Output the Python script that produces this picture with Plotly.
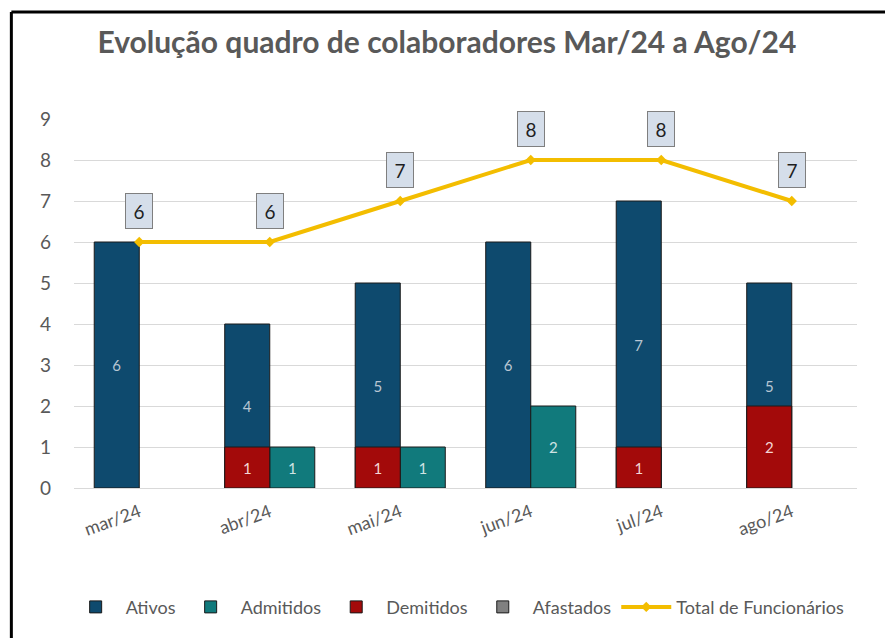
import plotly.graph_objects as go

categories = ["mar/24", "abr/24", "mai/24", "jun/24", "jul/24", "ago/24"]
ativos = [6, 4, 5, 6, 7, 5]
admitidos = [0, 1, 1, 2, 0, 0]
demitidos = [0, 1, 1, 0, 1, 2]
afastados = [0, 0, 0, 0, 0, 0]
total = [6, 6, 7, 8, 8, 7]
y_ticks = [0, 1, 2, 3, 4, 5, 6, 7, 8, 9]

FONT = "Lato"
GRAY = "#595959"

def lbl(vals):
    return [str(v) if v else "" for v in vals]

def nz(vals):
    return [v if v else None for v in vals]

fig = go.Figure()
fig.add_trace(go.Bar(name="Ativos", x=categories, y=nz(ativos), offsetgroup="a",
                     marker=dict(color="#0e4a6e", line=dict(color="#1a1a1a", width=1)),
                     text=lbl(ativos), textposition="inside", insidetextanchor="middle",
                     textangle=0, textfont=dict(color="#b8c6d3", size=15, family=FONT)))
fig.add_trace(go.Bar(name="Admitidos", x=categories, y=nz(admitidos), offsetgroup="b",
                     marker=dict(color="#117a7c", line=dict(color="#1a1a1a", width=1)),
                     text=lbl(admitidos), textposition="inside", insidetextanchor="middle",
                     textangle=0, textfont=dict(color="#cfe3e3", size=15, family=FONT)))
fig.add_trace(go.Bar(name="Demitidos", x=categories, y=nz(demitidos), offsetgroup="a",
                     marker=dict(color="#a30a0a", line=dict(color="#1a1a1a", width=1)),
                     text=lbl(demitidos), textposition="inside", insidetextanchor="middle",
                     textangle=0, textfont=dict(color="#f4d6d6", size=15, family=FONT)))
fig.add_trace(go.Bar(name="Afastados", x=categories, y=nz(afastados), offsetgroup="b",
                     marker=dict(color="#808080", line=dict(color="#1a1a1a", width=1)),
                     text=lbl(afastados), textposition="inside"))
fig.add_trace(go.Scatter(name="Total de Funcionários", x=categories, y=total,
                         mode="lines+markers",
                         line=dict(color="#f3bd00", width=4),
                         marker=dict(symbol="diamond", size=8, color="#f3bd00")))

for c, v in zip(categories, total):
    fig.add_annotation(x=c, y=v, text=str(v), showarrow=False, yshift=31,
                       font=dict(size=19, color="#1f1f1f", family=FONT),
                       bgcolor="#d5deea", bordercolor="#7f7f7f", borderwidth=1,
                       width=22, height=30, borderpad=2)

# outer frame lines (top and left)
fig.add_shape(type="line", xref="paper", yref="paper", x0=-0.08, x1=1.05,
              y0=1.29, y1=1.29, line=dict(color="black", width=3))
fig.add_shape(type="line", xref="paper", yref="paper", x0=-0.08, x1=-0.08,
              y0=1.29, y1=-0.42, line=dict(color="black", width=3))

fig.update_layout(
    width=885, height=638,
    margin=dict(l=74, r=28, t=119, b=147),
    paper_bgcolor="white", plot_bgcolor="white",
    barmode="group", bargap=0.31, bargroupgap=0,
    title=dict(text="Evolução quadro de colaboradores Mar/24 a Ago/24",
               x=0.505, xanchor="center", y=0.934, yanchor="middle",
               font=dict(family=FONT, size=30, color=GRAY, weight="bold")),
    font=dict(family=FONT, color=GRAY),
    legend=dict(orientation="h", x=0.49, xanchor="center", y=-0.323, yanchor="middle",
                font=dict(size=18, color=GRAY, family=FONT), traceorder="normal",
                itemwidth=50, tracegroupgap=0),
    xaxis=dict(tickangle=-20, tickfont=dict(size=18, color=GRAY, family=FONT),
               showline=True, linecolor="#d9d9d9", linewidth=1, ticks="",
               ticklabelstandoff=6),
    yaxis=dict(range=[0, 9], tickvals=y_ticks, tickfont=dict(size=19, color=GRAY, family=FONT),
               gridcolor="#d9d9d9", gridwidth=1, zeroline=False, ticks="",
               ticklabelstandoff=22),
    showlegend=True,
)

fig.write_html("out.html", config={"displayModeBar": False},
               post_script="document.body.style.margin='0px';")
